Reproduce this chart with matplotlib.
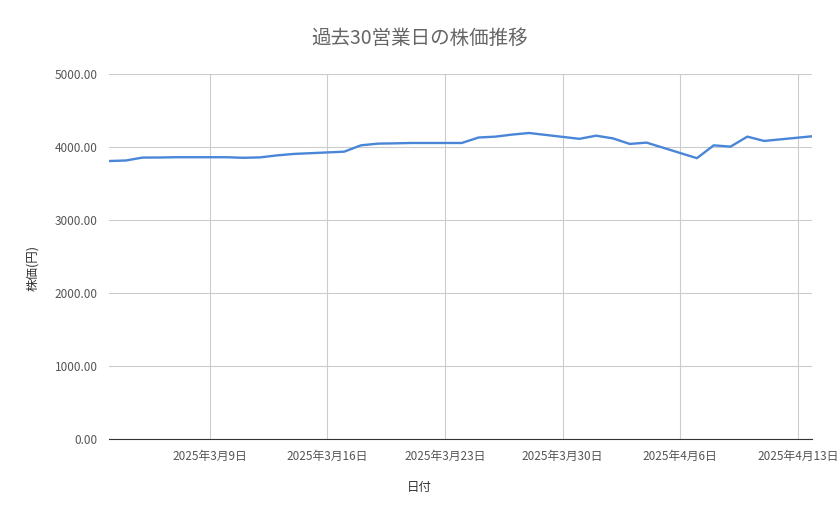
import datetime as dt

import matplotlib
matplotlib.use("Agg")
import matplotlib.pyplot as plt

plt.rcParams["font.family"] = ["Noto Sans CJK JP", "DejaVu Sans"]

# Weekday trading dates and closing prices
dates = [
    "2025-03-03", "2025-03-04", "2025-03-05", "2025-03-06", "2025-03-07",
    "2025-03-10", "2025-03-11", "2025-03-12", "2025-03-13", "2025-03-14",
    "2025-03-17", "2025-03-18", "2025-03-19", "2025-03-20", "2025-03-21",
    "2025-03-24", "2025-03-25", "2025-03-26", "2025-03-27", "2025-03-28",
    "2025-03-31", "2025-04-01", "2025-04-02", "2025-04-03", "2025-04-04",
    "2025-04-07", "2025-04-08", "2025-04-09", "2025-04-10", "2025-04-11",
    "2025-04-14",
]
prices = [
    3808, 3815, 3855, 3856, 3860,
    3860, 3852, 3858, 3885, 3905,
    3936, 4023, 4046, 4050, 4055,
    4055, 4130, 4142, 4170, 4192,
    4112, 4155, 4118, 4042, 4060,
    3847, 4023, 4005, 4142, 4083,
    4150,
]
y_ticks = [0, 1000, 2000, 3000, 4000, 5000]
x_ticks = ["2025-03-09", "2025-03-16", "2025-03-23", "2025-03-30", "2025-04-06", "2025-04-13"]

to_dt = lambda s: dt.datetime.strptime(s, "%Y-%m-%d")
x = [to_dt(d) for d in dates]

fig = plt.figure(figsize=(8.39, 5.19), dpi=100)
ax = fig.add_axes([109 / 839, 1 - 439 / 519, (812 - 109) / 839, (439 - 74) / 519])

ax.plot(x, prices, color="#4a86d8", linewidth=1.7, zorder=3)

ax.set_ylim(0, 5000)
ax.set_yticks(y_ticks)
ax.set_yticklabels([f"{v:.2f}" for v in y_ticks])
ax.set_xlim(to_dt("2025-03-03"), to_dt("2025-03-03") + dt.timedelta(days=41.85))
ax.set_xticks([to_dt(d) for d in x_ticks])
ax.set_xticklabels([f"2025年{to_dt(d).month}月{to_dt(d).day}日" for d in x_ticks])

ax.grid(True, color="#cccccc", linewidth=0.8, zorder=0)
ax.set_axisbelow(True)
for s in ["top", "right", "left"]:
    ax.spines[s].set_visible(False)
ax.spines["bottom"].set_color("#333333")
ax.tick_params(length=0, colors="#555555", labelsize=8.5)
ax.tick_params(axis="x", pad=8)
ax.tick_params(axis="y", pad=8)

fig.text(0.5, 1 - 38 / 519, "過去30営業日の株価推移", ha="center", va="center",
         fontsize=14, color="#666666")
fig.text(0.5, 1 - 487 / 519, "日付", ha="center", va="center", fontsize=9, color="#333333")
fig.text(33 / 839, 1 - 268 / 519, "株価(円)", ha="center", va="center", rotation=90,
         fontsize=9, color="#333333")

fig.savefig("out.png", dpi=100, facecolor="white")
